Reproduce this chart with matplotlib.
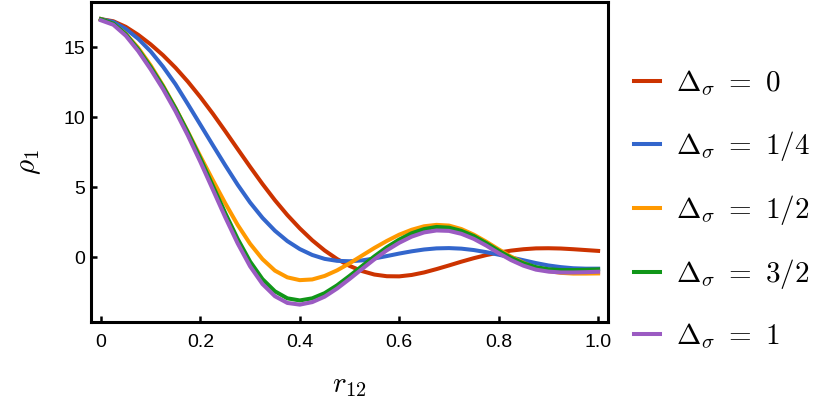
import numpy as np
import matplotlib
matplotlib.use("Agg")
import matplotlib.pyplot as plt

plt.rcParams['mathtext.fontset'] = 'cm'
plt.rcParams['font.family'] = ['Liberation Sans', 'DejaVu Sans']

# sample grid along r12
r12 = np.linspace(0, 1, 41)

rho_d0 = [17.0, 16.85, 16.45, 15.88, 15.2, 14.42, 13.53, 12.53, 11.43, 10.25,
          9.0, 7.72, 6.45, 5.22, 4.06, 3.0, 2.05, 1.2, 0.47, -0.14,
          -0.63, -1.0, -1.25, -1.37, -1.38, -1.28, -1.1, -0.86, -0.6, -0.33,
          -0.08, 0.14, 0.32, 0.46, 0.56, 0.62, 0.63, 0.61, 0.56, 0.5, 0.44]
rho_d14 = [17.0, 16.8, 16.3, 15.6, 14.7, 13.6, 12.35, 10.92, 9.46, 8.0,
           6.56, 5.17, 3.9, 2.8, 1.88, 1.14, 0.57, 0.15, -0.13, -0.27,
           -0.3, -0.24, -0.1, 0.07, 0.25, 0.41, 0.54, 0.62, 0.64, 0.6,
           0.5, 0.35, 0.17, -0.03, -0.23, -0.43, -0.6, -0.72, -0.8, -0.83, -0.83]
rho_d12 = [17.0, 16.65, 15.95, 14.95, 13.7, 12.25, 10.65, 8.95, 7.2, 5.5,
           3.85, 2.3, 0.95, -0.15, -0.97, -1.45, -1.65, -1.6, -1.35, -0.95,
           -0.45, 0.1, 0.65, 1.15, 1.6, 1.95, 2.2, 2.3, 2.25, 2.0,
           1.6, 1.1, 0.55, 0.03, -0.42, -0.77, -1.0, -1.13, -1.18, -1.18, -1.17]
rho_d32 = [17.0, 16.68, 15.92, 14.85, 13.58, 12.18, 10.62, 8.9, 7.05, 5.1,
           3.15, 1.3, -0.32, -1.58, -2.45, -2.95, -3.1, -2.95, -2.58, -2.02,
           -1.35, -0.65, 0.05, 0.7, 1.25, 1.7, 2.0, 2.15, 2.1, 1.87,
           1.5, 1.0, 0.45, -0.05, -0.45, -0.72, -0.87, -0.93, -0.93, -0.91, -0.88]
rho_d1 = [16.92, 16.6, 15.82, 14.72, 13.42, 12.0, 10.42, 8.68, 6.8, 4.83,
          2.85, 0.98, -0.66, -1.93, -2.8, -3.28, -3.4, -3.22, -2.83, -2.25,
          -1.57, -0.86, -0.16, 0.48, 1.02, 1.46, 1.76, 1.9, 1.87, 1.66,
          1.3, 0.82, 0.28, -0.22, -0.62, -0.9, -1.04, -1.1, -1.1, -1.08, -1.05]

labels = [r'$\Delta_\sigma\ =\ 0$', r'$\Delta_\sigma\ =\ 1/4$',
          r'$\Delta_\sigma\ =\ 1/2$', r'$\Delta_\sigma\ =\ 3/2$',
          r'$\Delta_\sigma\ =\ 1$']
colors = ['#CC3300', '#3366CC', '#FF9900', '#109618', '#9B5BC2']
series = [rho_d0, rho_d14, rho_d12, rho_d32, rho_d1]

fig = plt.figure(figsize=(8.3, 4.16), dpi=100)
ax = fig.add_axes([0.1096, 0.226, 0.623, 0.770])

for ys, c, lab in zip(series, colors, labels):
    ax.plot(r12, ys, color=c, lw=2.9, label=lab, solid_joinstyle='round')

ax.set_xlim(-0.02, 1.02)
ax.set_ylim(-4.64, 18.25)
ax.set_xticks([0, 0.2, 0.4, 0.6, 0.8, 1.0])
ax.set_xticklabels(['0', '0.2', '0.4', '0.6', '0.8', '1.0'])
ax.set_yticks([0, 5, 10, 15])
for s in ax.spines.values():
    s.set_linewidth(2.2)
ax.tick_params(direction='in', length=4, width=1.8, labelsize=14)
ax.tick_params(axis='x', pad=9)
ax.tick_params(axis='y', pad=4)

ax.set_xlabel(r'$r_{12}$', fontsize=21, labelpad=14)
ax.set_ylabel(r'$\rho_1$', fontsize=21, labelpad=15)

fig.legend(loc='center left', bbox_to_anchor=(0.764, 0.495), frameon=False,
           fontsize=21, handlelength=0.9, handletextpad=0.55, labelspacing=1.04,
           borderpad=0, borderaxespad=0)

fig.savefig('out.png', dpi=100)
